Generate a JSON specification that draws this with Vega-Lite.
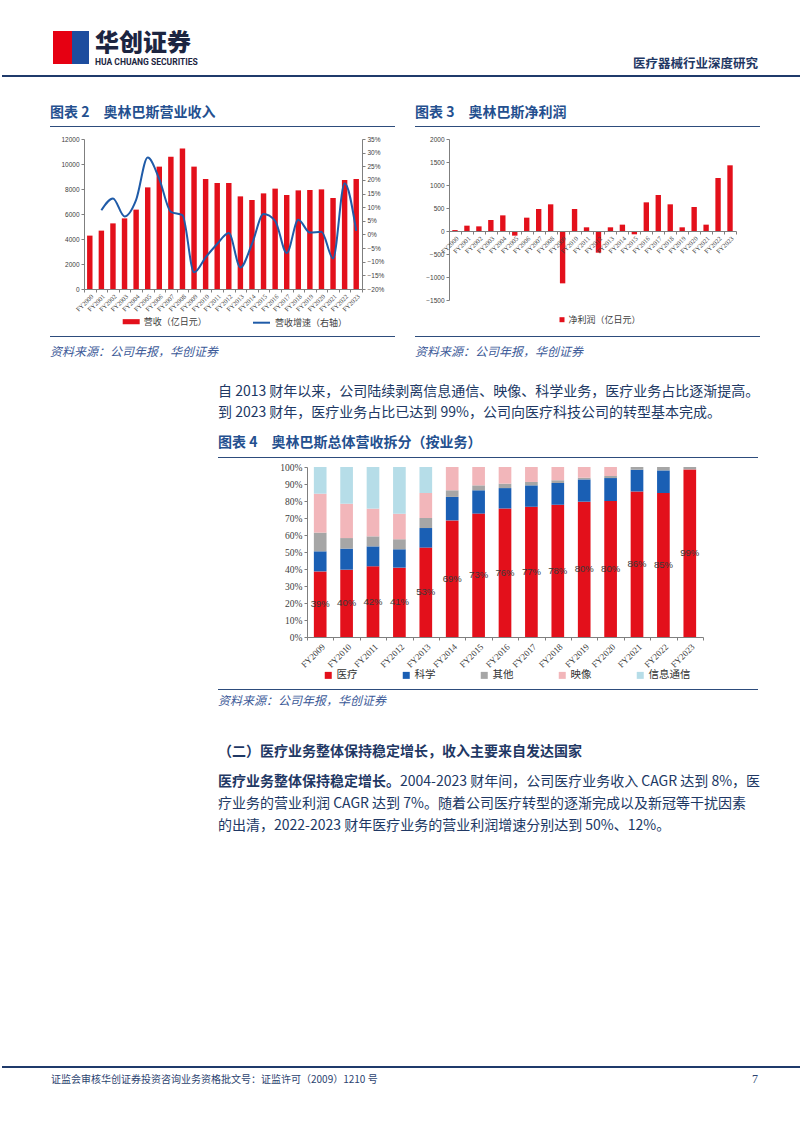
{
  "$schema": "https://vega.github.io/schema/vega-lite/v6.json",
  "padding": 0,
  "background": "white",
  "autosize": {"type": "pad"},
  "data": {"values": [{}]},
  "config": {
    "font": "Noto Sans CJK SC",
    "view": {"stroke": null},
    "title": {"frame": "group", "anchor": "start", "orient": "top", "offset": 0, "fontWeight": "normal", "color": "#203864", "font": "Noto Sans CJK SC"},
    "axis": {"grid": false, "domainColor": "#7f7f7f", "tickColor": "#7f7f7f", "labelColor": "#404040", "tickSize": 3},
    "point": {"size": 0, "strokeWidth": 0, "opacity": 0}
  },
  "resolve": {"scale": {"fill": "independent", "stroke": "independent", "color": "independent"}, "legend": {"fill": "independent", "stroke": "independent", "color": "independent"}},
  "spacing": 0,
  "vconcat": [
    {"width": 802, "height": 31, "mark": "point", "encoding": {}},
    {"hconcat": [
      {"width": 53, "height": 44, "mark": "point", "encoding": {}},
      {"width": 19, "height": 33, "view": {"fill": "#e60012", "stroke": null}, "mark": "point", "encoding": {}},
      {"width": 17, "height": 33, "view": {"fill": "#1d4d9e", "stroke": null}, "mark": "point", "encoding": {}},
      {"width": 6, "height": 1, "mark": "point", "encoding": {}},
      {"width": 130, "height": 1, "mark": "point", "encoding": {},
       "title": {"text": "华创证券", "subtitle": "HUA CHUANG SECURITIES", "fontSize": 24, "fontWeight": 900, "color": "#1c2541", "subtitleFont": "Roboto", "subtitleFontSize": 8.5, "subtitleFontWeight": "bold", "subtitleColor": "#1c2541", "subtitlePadding": 1.6, "offset": -35.3}},
      {"width": 533, "height": 1, "mark": "point", "encoding": {},
       "title": {"text": "医疗器械行业深度研究", "anchor": "end", "fontSize": 12.5, "fontWeight": "bold", "color": "#1f3864", "offset": -39.4}}
    ], "bounds": "flush", "spacing": 0},
    {"hconcat": [
      {"width": 2, "height": 2, "mark": "point", "encoding": {}},
      {"width": 798, "height": 2, "view": {"fill": "#1f3a6b", "stroke": null}, "mark": "point", "encoding": {}}
    ], "bounds": "flush", "spacing": 0},
    {"hconcat": [
      {"width": 50, "height": 49, "mark": "point", "encoding": {}},
      {"width": 345, "height": 1, "mark": "point", "encoding": {},
       "title": {"text": "图表 2　奥林巴斯营业收入", "fontSize": 14, "fontWeight": "bold", "color": "#24508f", "offset": -43}},
      {"width": 20, "height": 1, "mark": "point", "encoding": {}},
      {"width": 345, "height": 1, "mark": "point", "encoding": {},
       "title": {"text": "图表 3　奥林巴斯净利润", "fontSize": 14, "fontWeight": "bold", "color": "#24508f", "offset": -43}}
    ], "bounds": "flush", "spacing": 0},
    {"hconcat": [
      {"width": 50, "height": 1, "mark": "point", "encoding": {}},
      {"width": 345, "height": 1, "view": {"fill": "#2d4c7c", "stroke": null}, "mark": "point", "encoding": {}},
      {"width": 20, "height": 1, "mark": "point", "encoding": {}},
      {"width": 345, "height": 1, "view": {"fill": "#2d4c7c", "stroke": null}, "mark": "point", "encoding": {}}
    ], "bounds": "flush", "spacing": 0},
    {"width": 802, "height": 9, "mark": "point", "encoding": {}},
    {"hconcat": [
      {"width": 84, "height": 197, "mark": "point", "encoding": {}},
      {
        "width": 278, "height": 150,
        "data": {"values": [
          {"year": "FY2000", "revenue": 4270, "growth": null},
          {"year": "FY2001", "revenue": 4670, "growth": 0.089},
          {"year": "FY2002", "revenue": 5250, "growth": 0.132},
          {"year": "FY2003", "revenue": 5650, "growth": 0.066},
          {"year": "FY2004", "revenue": 6350, "growth": 0.127},
          {"year": "FY2005", "revenue": 8130, "growth": 0.282},
          {"year": "FY2006", "revenue": 9790, "growth": 0.203},
          {"year": "FY2007", "revenue": 10590, "growth": 0.083},
          {"year": "FY2008", "revenue": 11250, "growth": 0.071},
          {"year": "FY2009", "revenue": 9790, "growth": -0.139},
          {"year": "FY2010", "revenue": 8800, "growth": -0.084},
          {"year": "FY2011", "revenue": 8480, "growth": -0.035},
          {"year": "FY2012", "revenue": 8480, "growth": 0.005},
          {"year": "FY2013", "revenue": 7410, "growth": -0.121},
          {"year": "FY2014", "revenue": 7120, "growth": -0.035},
          {"year": "FY2015", "revenue": 7650, "growth": 0.075},
          {"year": "FY2016", "revenue": 8030, "growth": 0.05},
          {"year": "FY2017", "revenue": 7520, "growth": -0.068},
          {"year": "FY2018", "revenue": 7890, "growth": 0.054},
          {"year": "FY2019", "revenue": 7920, "growth": 0.007},
          {"year": "FY2020", "revenue": 7970, "growth": 0.010},
          {"year": "FY2021", "revenue": 7280, "growth": -0.088},
          {"year": "FY2022", "revenue": 8720, "growth": 0.188},
          {"year": "FY2023", "revenue": 8800, "growth": 0.013}
        ]},
        "encoding": {
          "x": {"field": "year", "type": "nominal", "sort": null, "scale": {"paddingInner": 0, "paddingOuter": 0},
                "axis": {"title": null, "labelAngle": -45, "labelFontSize": 6.5, "labelFont": "Liberation Serif", "tickBand": "extent", "labelPadding": 1}}
        },
        "layer": [
          {"mark": {"type": "bar", "width": {"band": 0.47}},
           "encoding": {
             "y": {"field": "revenue", "type": "quantitative", "scale": {"domain": [0, 12000], "nice": false},
                   "axis": {"title": null, "values": [0, 2000, 4000, 6000, 8000, 10000, 12000], "format": "d", "labelFontSize": 6.5, "labelFont": "Liberation Sans"}},
             "fill": {"datum": "营收（亿日元）", "scale": {"range": ["#e3101b"]},
                      "legend": {"orient": "none", "legendX": 38.7, "legendY": 174.2, "title": null, "padding": 0, "symbolType": "M-1,-0.3H1V0.3H-1Z", "symbolSize": 289, "symbolStrokeWidth": 0, "labelFontSize": 9, "labelColor": "#404040", "labelOffset": 4}}
           }},
          {"mark": {"type": "line", "interpolate": "monotone", "strokeWidth": 2},
           "encoding": {
             "y": {"field": "growth", "type": "quantitative", "scale": {"domain": [-0.2, 0.35], "nice": false},
                   "axis": {"title": null, "orient": "right", "format": ".0%", "values": [-0.2, -0.15, -0.1, -0.05, 0, 0.05, 0.1, 0.15, 0.2, 0.25, 0.3, 0.35], "labelFontSize": 6.5, "labelFont": "Liberation Sans"}},
             "stroke": {"datum": "营收增速（右轴）", "scale": {"range": ["#1f5ba8"]},
                        "legend": {"orient": "none", "legendX": 168, "legendY": 174.2, "title": null, "padding": 0, "symbolType": "stroke", "symbolSize": 289, "symbolStrokeWidth": 2, "labelFontSize": 9, "labelColor": "#404040", "labelOffset": 4}}
           }}
        ],
        "resolve": {"scale": {"y": "independent"}}
      },
      {"width": 87, "height": 1, "mark": "point", "encoding": {}},
      {
        "width": 287, "height": 161,
        "data": {"values": [
          {"year": "FY2000", "profit": 20},
          {"year": "FY2001", "profit": 116},
          {"year": "FY2002", "profit": 101},
          {"year": "FY2003", "profit": 239},
          {"year": "FY2004", "profit": 340},
          {"year": "FY2005", "profit": -101},
          {"year": "FY2006", "profit": 290},
          {"year": "FY2007", "profit": 478},
          {"year": "FY2008", "profit": 580},
          {"year": "FY2009", "profit": -1138},
          {"year": "FY2010", "profit": 478},
          {"year": "FY2011", "profit": 80},
          {"year": "FY2012", "profit": -471},
          {"year": "FY2013", "profit": 80},
          {"year": "FY2014", "profit": 138},
          {"year": "FY2015", "profit": -72},
          {"year": "FY2016", "profit": 623},
          {"year": "FY2017", "profit": 783},
          {"year": "FY2018", "profit": 580},
          {"year": "FY2019", "profit": 80},
          {"year": "FY2020", "profit": 522},
          {"year": "FY2021", "profit": 138},
          {"year": "FY2022", "profit": 1152},
          {"year": "FY2023", "profit": 1428}
        ]},
        "mark": {"type": "bar", "width": {"band": 0.45}},
        "encoding": {
          "x": {"field": "year", "type": "nominal", "sort": null, "scale": {"paddingInner": 0, "paddingOuter": 0},
                "axis": {"title": null, "offset": -69, "zindex": 1, "labelAngle": -45, "labelFontSize": 6.5, "labelFont": "Liberation Serif", "tickBand": "extent", "labelPadding": 1}},
          "y": {"field": "profit", "type": "quantitative", "scale": {"domain": [-1500, 2000], "nice": false},
                "axis": {"title": null, "values": [-1500, -1000, -500, 0, 500, 1000, 1500, 2000], "format": "d", "labelFontSize": 6.5, "labelFont": "Liberation Sans"}},
          "fill": {"datum": "净利润（亿日元）", "scale": {"range": ["#e3101b"]},
                   "legend": {"orient": "none", "legendX": 108.5, "legendY": 176.2, "title": null, "padding": 0, "symbolType": "square", "symbolSize": 25, "symbolStrokeWidth": 0, "labelFontSize": 9, "labelColor": "#404040", "labelOffset": 2}}
        }
      }
    ], "bounds": "flush", "spacing": 0,
     "resolve": {"scale": {"fill": "independent", "stroke": "independent"}, "legend": {"fill": "independent", "stroke": "independent"}}},
    {"hconcat": [
      {"width": 50, "height": 23, "mark": "point", "encoding": {}},
      {"width": 345, "height": 1, "view": {"fill": "#2d4c7c", "stroke": null}, "mark": "point", "encoding": {},
       "title": {"text": "资料来源：公司年报，华创证券", "fontSize": 12, "fontStyle": "italic", "color": "#3c5a98", "offset": -22.6}},
      {"width": 20, "height": 1, "mark": "point", "encoding": {}},
      {"width": 345, "height": 1, "view": {"fill": "#2d4c7c", "stroke": null}, "mark": "point", "encoding": {},
       "title": {"text": "资料来源：公司年报，华创证券", "fontSize": 12, "fontStyle": "italic", "color": "#3c5a98", "offset": -22.6}}
    ], "bounds": "flush", "spacing": 0},
    {"hconcat": [
      {"width": 218, "height": 98, "mark": "point", "encoding": {},
       "title": {"text": "图表 4　奥林巴斯总体营收拆分（按业务）", "dx": 218, "fontSize": 14, "fontWeight": "bold", "color": "#24508f", "offset": -91.3}},
      {"width": 540, "height": 1, "mark": "point", "encoding": {},
       "title": {"text": ["自 2013 财年以来，公司陆续剥离信息通信、映像、科学业务，医疗业务占比逐渐提高。", "到 2023 财年，医疗业务占比已达到 99%，公司向医疗科技公司的转型基本完成。"], "fontSize": 14, "lineHeight": 21, "color": "#203864", "offset": -61.3}}
    ], "bounds": "flush", "spacing": 0},
    {"hconcat": [
      {"width": 218, "height": 1, "mark": "point", "encoding": {}},
      {"width": 540, "height": 1, "view": {"fill": "#2d4c7c", "stroke": null}, "mark": "point", "encoding": {}}
    ], "bounds": "flush", "spacing": 0},
    {"width": 802, "height": 4, "mark": "point", "encoding": {}},
    {"hconcat": [
      {"width": 307, "height": 222, "mark": "point", "encoding": {}},
      {
        "width": 396, "height": 170,
        "data": {"values": [
          {"year": "FY2009", "seg": "医疗", "share": 0.386, "k": 1},
          {"year": "FY2009", "seg": "科学", "share": 0.118, "k": 2},
          {"year": "FY2009", "seg": "其他", "share": 0.110, "k": 3},
          {"year": "FY2009", "seg": "映像", "share": 0.229, "k": 4},
          {"year": "FY2009", "seg": "信息通信", "share": 0.157, "k": 5},
          {"year": "FY2010", "seg": "医疗", "share": 0.396, "k": 1},
          {"year": "FY2010", "seg": "科学", "share": 0.124, "k": 2},
          {"year": "FY2010", "seg": "其他", "share": 0.062, "k": 3},
          {"year": "FY2010", "seg": "映像", "share": 0.202, "k": 4},
          {"year": "FY2010", "seg": "信息通信", "share": 0.216, "k": 5},
          {"year": "FY2011", "seg": "医疗", "share": 0.416, "k": 1},
          {"year": "FY2011", "seg": "科学", "share": 0.117, "k": 2},
          {"year": "FY2011", "seg": "其他", "share": 0.059, "k": 3},
          {"year": "FY2011", "seg": "映像", "share": 0.163, "k": 4},
          {"year": "FY2011", "seg": "信息通信", "share": 0.245, "k": 5},
          {"year": "FY2012", "seg": "医疗", "share": 0.408, "k": 1},
          {"year": "FY2012", "seg": "科学", "share": 0.108, "k": 2},
          {"year": "FY2012", "seg": "其他", "share": 0.059, "k": 3},
          {"year": "FY2012", "seg": "映像", "share": 0.150, "k": 4},
          {"year": "FY2012", "seg": "信息通信", "share": 0.275, "k": 5},
          {"year": "FY2013", "seg": "医疗", "share": 0.526, "k": 1},
          {"year": "FY2013", "seg": "科学", "share": 0.115, "k": 2},
          {"year": "FY2013", "seg": "其他", "share": 0.059, "k": 3},
          {"year": "FY2013", "seg": "映像", "share": 0.147, "k": 4},
          {"year": "FY2013", "seg": "信息通信", "share": 0.153, "k": 5},
          {"year": "FY2014", "seg": "医疗", "share": 0.686, "k": 1},
          {"year": "FY2014", "seg": "科学", "share": 0.138, "k": 2},
          {"year": "FY2014", "seg": "其他", "share": 0.039, "k": 3},
          {"year": "FY2014", "seg": "映像", "share": 0.137, "k": 4},
          {"year": "FY2015", "seg": "医疗", "share": 0.726, "k": 1},
          {"year": "FY2015", "seg": "科学", "share": 0.137, "k": 2},
          {"year": "FY2015", "seg": "其他", "share": 0.029, "k": 3},
          {"year": "FY2015", "seg": "映像", "share": 0.108, "k": 4},
          {"year": "FY2016", "seg": "医疗", "share": 0.756, "k": 1},
          {"year": "FY2016", "seg": "科学", "share": 0.120, "k": 2},
          {"year": "FY2016", "seg": "其他", "share": 0.026, "k": 3},
          {"year": "FY2016", "seg": "映像", "share": 0.098, "k": 4},
          {"year": "FY2017", "seg": "医疗", "share": 0.766, "k": 1},
          {"year": "FY2017", "seg": "科学", "share": 0.126, "k": 2},
          {"year": "FY2017", "seg": "其他", "share": 0.020, "k": 3},
          {"year": "FY2017", "seg": "映像", "share": 0.088, "k": 4},
          {"year": "FY2018", "seg": "医疗", "share": 0.778, "k": 1},
          {"year": "FY2018", "seg": "科学", "share": 0.128, "k": 2},
          {"year": "FY2018", "seg": "其他", "share": 0.016, "k": 3},
          {"year": "FY2018", "seg": "映像", "share": 0.078, "k": 4},
          {"year": "FY2019", "seg": "医疗", "share": 0.796, "k": 1},
          {"year": "FY2019", "seg": "科学", "share": 0.131, "k": 2},
          {"year": "FY2019", "seg": "其他", "share": 0.010, "k": 3},
          {"year": "FY2019", "seg": "映像", "share": 0.063, "k": 4},
          {"year": "FY2020", "seg": "医疗", "share": 0.800, "k": 1},
          {"year": "FY2020", "seg": "科学", "share": 0.135, "k": 2},
          {"year": "FY2020", "seg": "其他", "share": 0.012, "k": 3},
          {"year": "FY2020", "seg": "映像", "share": 0.053, "k": 4},
          {"year": "FY2021", "seg": "医疗", "share": 0.856, "k": 1},
          {"year": "FY2021", "seg": "科学", "share": 0.128, "k": 2},
          {"year": "FY2021", "seg": "其他", "share": 0.016, "k": 3},
          {"year": "FY2022", "seg": "医疗", "share": 0.847, "k": 1},
          {"year": "FY2022", "seg": "科学", "share": 0.133, "k": 2},
          {"year": "FY2022", "seg": "其他", "share": 0.020, "k": 3},
          {"year": "FY2023", "seg": "医疗", "share": 0.986, "k": 1},
          {"year": "FY2023", "seg": "其他", "share": 0.014, "k": 3}
        ]},
        "encoding": {
          "x": {"field": "year", "type": "nominal", "sort": null, "scale": {"paddingInner": 0, "paddingOuter": 0},
                "axis": {"title": null, "labelAngle": -45, "labelFontSize": 9, "labelFont": "Liberation Serif", "tickBand": "extent", "labelPadding": 2}}
        },
        "layer": [
          {"mark": {"type": "bar", "width": {"band": 0.48}},
           "encoding": {
             "y": {"field": "share", "type": "quantitative", "stack": "zero", "scale": {"domain": [0, 1], "nice": false},
                   "axis": {"title": null, "values": [0, 0.1, 0.2, 0.3, 0.4, 0.5, 0.6, 0.7, 0.8, 0.9, 1], "format": ".0%", "labelFontSize": 9.5, "labelFont": "Liberation Serif"}},
             "order": {"field": "k", "type": "quantitative"},
             "color": {"field": "seg", "type": "nominal",
                       "scale": {"domain": ["医疗", "科学", "其他", "映像", "信息通信"], "range": ["#e3101b", "#1a5fb4", "#a6a6a6", "#f2b6ba", "#b6dde8"]},
                       "legend": {"orient": "none", "legendX": 16, "legendY": 203, "direction": "horizontal", "columns": 5, "title": null, "padding": 0, "symbolType": "square", "symbolSize": 49, "symbolStrokeWidth": 0, "labelFontSize": 10.5, "labelColor": "#333333", "labelOffset": 3, "columnPadding": 43}}
           }},
          {"transform": [{"filter": "datum.seg === '医疗'"}],
           "mark": {"type": "text", "fontSize": 9.5, "color": "#3a3a3a", "font": "Liberation Sans", "baseline": "middle"},
           "encoding": {
             "y": {"field": "share", "type": "quantitative", "stack": null, "scale": {"domain": [0, 2], "nice": false}, "axis": null},
             "text": {"field": "share", "type": "quantitative", "format": ".0%"}
           }}
        ],
        "resolve": {"scale": {"y": "independent"}}
      }
    ], "bounds": "flush", "spacing": 0,
     "resolve": {"scale": {"color": "independent"}, "legend": {"color": "independent"}}},
    {"hconcat": [
      {"width": 218, "height": 377, "mark": "point", "encoding": {},
       "title": {"text": "（二）医疗业务整体保持稳定增长，收入主要来自发达国家", "dx": 218, "fontSize": 14, "fontWeight": "bold", "color": "#1f3864", "offset": -70}},
      {"width": 540, "height": 1, "view": {"fill": "#2d4c7c", "stroke": null}, "mark": "point", "encoding": {},
       "title": {"text": "资料来源：公司年报，华创证券", "fontSize": 12, "fontStyle": "italic", "color": "#3c5a98", "offset": -18.8}},
      {"width": 1, "height": 1, "mark": "point", "encoding": {},
       "title": {"text": "医疗业务整体保持稳定增长。", "dx": -540, "fontSize": 14, "fontWeight": "bold", "color": "#1f3864", "offset": -100}},
      {"width": 1, "height": 1, "mark": "point", "encoding": {},
       "title": {"text": "2004-2023 财年间，公司医疗业务收入 CAGR 达到 8%，医", "dx": -359, "fontSize": 14, "color": "#203864", "offset": -100}},
      {"width": 1, "height": 1, "mark": "point", "encoding": {},
       "title": {"text": ["疗业务的营业利润 CAGR 达到 7%。随着公司医疗转型的逐渐完成以及新冠等干扰因素", "的出清，2022-2023 财年医疗业务的营业利润增速分别达到 50%、12%。"], "dx": -542, "fontSize": 14, "lineHeight": 22.4, "color": "#203864", "offset": -144}}
    ], "bounds": "flush", "spacing": 0},
    {"hconcat": [
      {"width": 2, "height": 2, "mark": "point", "encoding": {}},
      {"width": 798, "height": 2, "view": {"fill": "#1f3a6b", "stroke": null}, "mark": "point", "encoding": {}}
    ], "bounds": "flush", "spacing": 0},
    {"hconcat": [
      {"width": 51, "height": 20, "mark": "point", "encoding": {}},
      {"width": 600, "height": 1, "mark": "point", "encoding": {},
       "title": {"text": "证监会审核华创证券投资咨询业务资格批文号：证监许可（2009）1210 号", "fontSize": 10, "color": "#2c4370", "offset": -16.9}},
      {"width": 107, "height": 1, "mark": "point", "encoding": {},
       "title": {"text": "7", "anchor": "end", "font": "Liberation Serif", "fontSize": 12, "color": "#2c4370", "offset": -17.8}}
    ], "bounds": "flush", "spacing": 0}
  ]
}
